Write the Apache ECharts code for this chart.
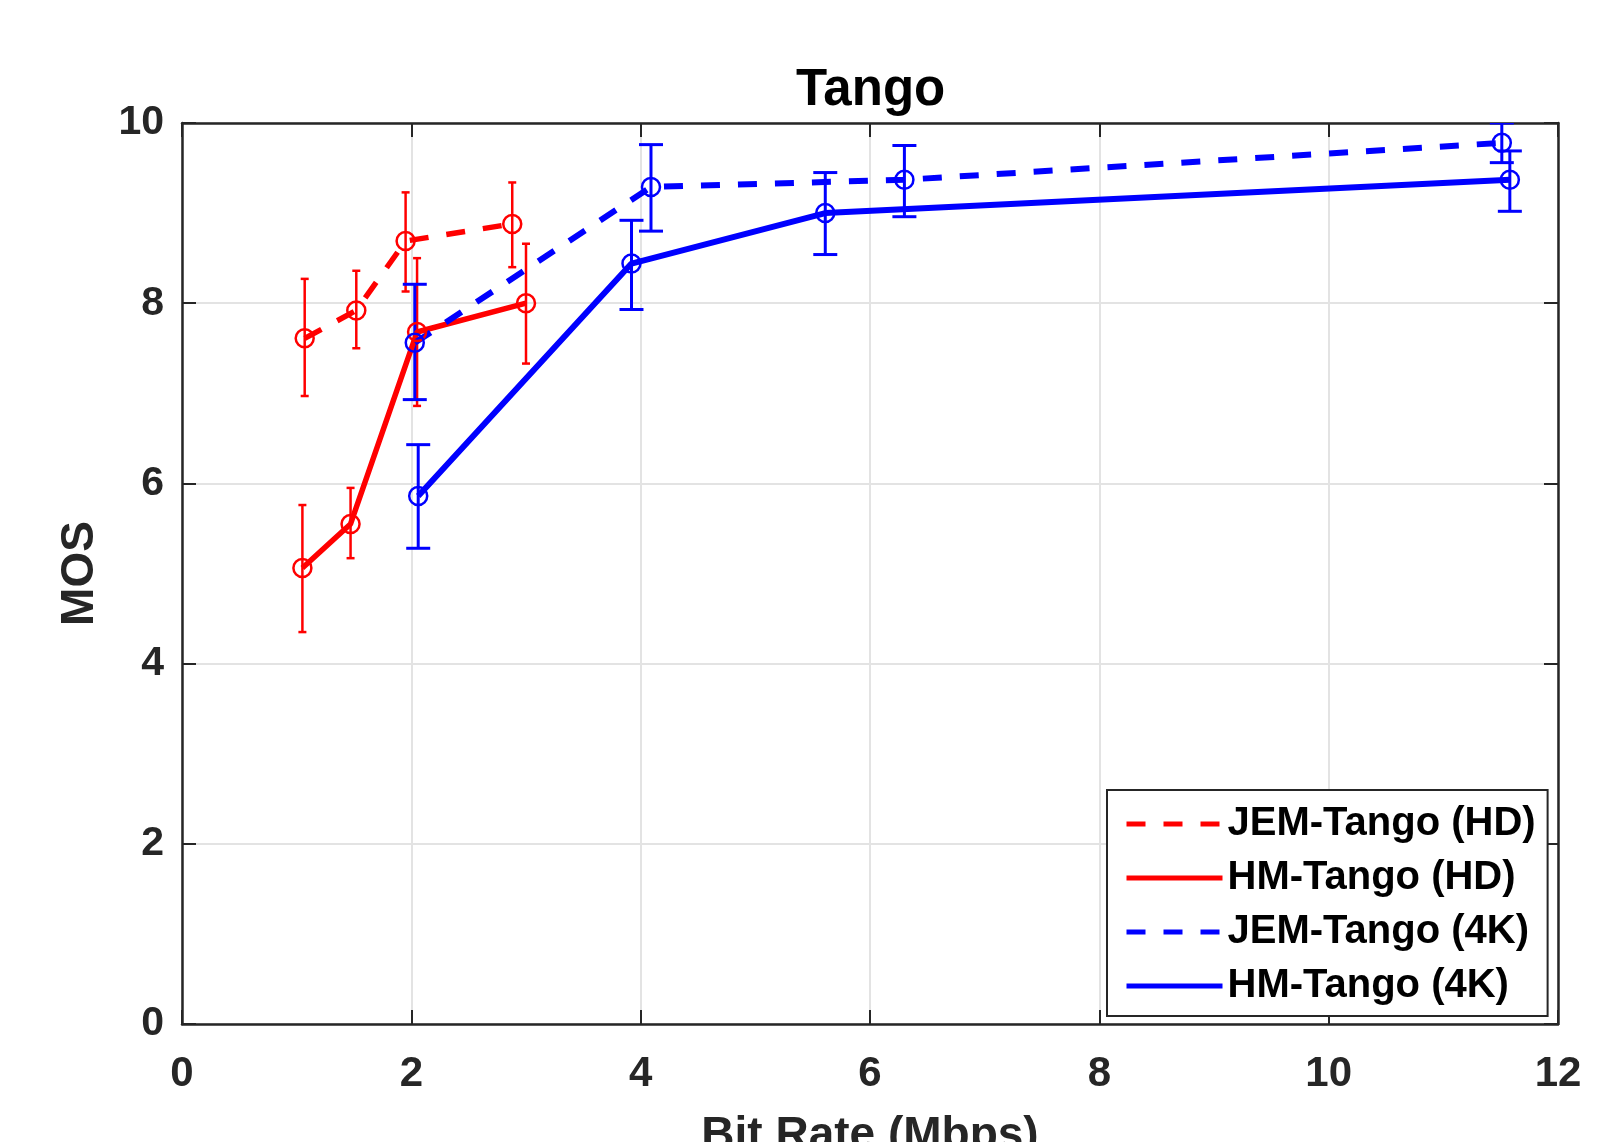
<!DOCTYPE html>
<html>
<head>
<meta charset="utf-8">
<script src="https://cdn.jsdelivr.net/npm/echarts@6/dist/echarts.min.js"></script>
<style>
  html, body { margin: 0; padding: 0; background: #fff; overflow: hidden; }
  #chart { width: 1605px; height: 1142px; }
</style>
</head>
<body>
<div id="chart"></div>
<script>
// ---- Data ----
const seriesNames = ['JEM-Tango (HD)', 'HM-Tango (HD)', 'JEM-Tango (4K)', 'HM-Tango (4K)'];

const jemHdX    = [1.07, 1.52, 1.95, 2.88];
const jemHdY    = [7.61, 7.92, 8.69, 8.88];
const jemHdLow  = [6.97, 7.50, 8.13, 8.40];
const jemHdHigh = [8.27, 8.36, 9.23, 9.34];

const hmHdX     = [1.05, 1.47, 2.05, 3.00];
const hmHdY     = [5.06, 5.55, 7.68, 8.00];
const hmHdLow   = [4.35, 5.17, 6.86, 7.33];
const hmHdHigh  = [5.76, 5.95, 8.50, 8.66];

const jem4kX    = [2.03, 4.09, 6.30, 11.51];
const jem4kY    = [7.56, 9.29, 9.37, 9.78];
const jem4kLow  = [6.93, 8.80, 8.96, 9.56];
const jem4kHigh = [8.21, 9.76, 9.75, 10.00];

const hm4kX     = [2.06, 3.92, 5.61, 11.58];
const hm4kY     = [5.86, 8.44, 9.00, 9.37];
const hm4kLow   = [5.28, 7.93, 8.54, 9.02];
const hm4kHigh  = [6.43, 8.92, 9.45, 9.69];

const xTicks = [0, 2, 4, 6, 8, 10, 12];
const yTicks = [0, 2, 4, 6, 8, 10];

// ---- Helpers ----
const FONT = "'Liberation Sans', Arial, Helvetica, sans-serif";
const AX = '#262626';
const RED = '#ff0000';
const BLUE = '#0000ff';
const DASH = [19, 18];

function pts(xs, ys) { return xs.map((x, i) => [x, ys[i]]); }
function errs(xs, lo, hi) { return xs.map((x, i) => [x, lo[i], hi[i]]); }

function errRenderer(cap, width, color) {
  return function (params, api) {
    const x = api.value(0), lo = api.value(1), hi = api.value(2);
    const a = api.coord([x, lo]), b = api.coord([x, hi]);
    const style = { stroke: color, lineWidth: width };
    return {
      type: 'group',
      children: [
        { type: 'line', shape: { x1: a[0], y1: a[1], x2: b[0], y2: b[1] }, style: style },
        { type: 'line', shape: { x1: a[0] - cap, y1: a[1], x2: a[0] + cap, y2: a[1] }, style: style },
        { type: 'line', shape: { x1: b[0] - cap, y1: b[1], x2: b[0] + cap, y2: b[1] }, style: style }
      ]
    };
  };
}

function lineSeries(name, data, color, type, width) {
  return {
    name: name, type: 'line', data: data,
    symbol: 'circle', symbolSize: 18,
    itemStyle: { color: 'rgba(255,255,255,0)', borderColor: color, borderWidth: 2.5 },
    lineStyle: { color: color, width: width, type: type },
    emphasis: { disabled: true },
    animation: false, z: 3
  };
}
function errSeries(name, data, cap, width, color) {
  return {
    name: name, type: 'custom', data: data,
    renderItem: errRenderer(cap, width, color),
    encode: { x: 0, y: [1, 2] },
    clip: true, animation: false, silent: true, z: 3
  };
}

const axisCommon = {
  min: 0,
  axisLine: { show: true, onZero: false, lineStyle: { color: AX, width: 2.5 } },
  axisTick: { show: true, inside: true, length: 14, lineStyle: { color: AX, width: 2 } }
};

const dom = document.getElementById('chart');
const chart = echarts.init(dom, null, { renderer: 'canvas', width: 1605, height: 1142 });

const option = {
  backgroundColor: '#fff',
  animation: false,
  title: {
    text: 'Tango', left: 791, top: 60,
    textStyle: { fontFamily: FONT, fontSize: 51, fontWeight: 'bold', color: '#000' }
  },
  grid: { left: 182, right: 47, top: 123, bottom: 118, containLabel: false, outerBoundsMode: 'none' },
  xAxis: [
    Object.assign({}, axisCommon, {
      type: 'value', position: 'bottom', max: 12, interval: 2,
      name: 'Bit Rate (Mbps)', nameLocation: 'middle', nameGap: 89,
      nameTextStyle: { fontFamily: FONT, fontSize: 46, fontWeight: 'bold', color: AX },
      axisLabel: { margin: 29, fontFamily: FONT, fontSize: 42, fontWeight: 'bold', color: AX,
                   formatter: v => xTicks.indexOf(v) >= 0 ? String(v) : '' },
      splitLine: { show: true, lineStyle: { color: '#e3e3e3', width: 2 } }
    }),
    Object.assign({}, axisCommon, {
      type: 'value', position: 'top', max: 12, interval: 2,
      axisLabel: { show: false }, splitLine: { show: false }
    })
  ],
  yAxis: [
    Object.assign({}, axisCommon, {
      type: 'value', position: 'left', max: 10, interval: 2,
      name: 'MOS', nameLocation: 'middle', nameGap: 79,
      nameTextStyle: { fontFamily: FONT, fontSize: 46, fontWeight: 'bold', color: AX },
      axisLabel: { margin: 18, fontFamily: FONT, fontSize: 41, fontWeight: 'bold', color: AX,
                   formatter: v => yTicks.indexOf(v) >= 0 ? String(v) : '' },
      splitLine: { show: true, lineStyle: { color: '#e3e3e3', width: 2 } }
    }),
    Object.assign({}, axisCommon, {
      type: 'value', position: 'right', max: 10, interval: 2,
      axisLabel: { show: false }, splitLine: { show: false }
    })
  ],
  legend: {
    data: seriesNames,
    orient: 'vertical', left: 1107, top: 790,
    padding: [14, 12, 10, 17],
    itemWidth: 96, itemHeight: 20, itemGap: 14,
    selectedMode: false,
    backgroundColor: '#fff', borderColor: AX, borderWidth: 2,
    itemStyle: { opacity: 0 },
    lineStyle: { width: 5 },
    textStyle: { fontFamily: FONT, fontSize: 40, fontWeight: 'bold', color: '#000', lineHeight: 40 },
    z: 10
  },
  series: [
    lineSeries(seriesNames[0], pts(jemHdX, jemHdY), RED, DASH, 5.5),
    errSeries('errJemHd', errs(jemHdX, jemHdLow, jemHdHigh), 4, 2.5, RED),
    lineSeries(seriesNames[1], pts(hmHdX, hmHdY), RED, 'solid', 5.5),
    errSeries('errHmHd', errs(hmHdX, hmHdLow, hmHdHigh), 4, 2.5, RED),
    lineSeries(seriesNames[2], pts(jem4kX, jem4kY), BLUE, DASH, 6),
    errSeries('errJem4k', errs(jem4kX, jem4kLow, jem4kHigh), 12, 3, BLUE),
    lineSeries(seriesNames[3], pts(hm4kX, hm4kY), BLUE, 'solid', 6),
    errSeries('errHm4k', errs(hm4kX, hm4kLow, hm4kHigh), 12, 3, BLUE)
  ]
};

chart.setOption(option);
</script>
</body>
</html>
